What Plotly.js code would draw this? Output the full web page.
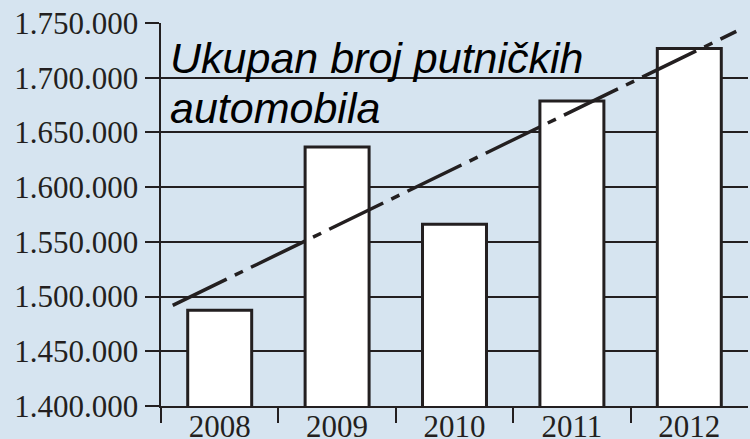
<!DOCTYPE html>
<html>
<head>
<meta charset="utf-8">
<script src="https://cdn.plot.ly/plotly-3.0.1.min.js"></script>
<style>html,body{margin:0;padding:0;background:#d6e4f0;}#chart{width:750px;height:439px;}</style>
</head>
<body>
<div id="chart"></div>
<script>
// Data
const years = [2008, 2009, 2010, 2011, 2012];
const yearLabels = ['2008', '2009', '2010', '2011', '2012'];
const cars = [1487500, 1636700, 1566100, 1678800, 1726800];
// trend line end points (as drawn in the picture)
const trendX = [2007.6, 2012.4];
const trendY = [1492000, 1742300];
const boundaries = [2007.5, 2008.5, 2009.5, 2010.5, 2011.5];
const titleLines = ['Ukupan broj putničkih', 'automobila'];

const ink = '#231f20';
const bg = '#d6e4f0';

const traces = [
  {
    type: 'bar', x: years, y: cars, xaxis: 'x', yaxis: 'y',
    width: 0.545,
    marker: {color: '#ffffff', line: {color: ink, width: 3}},
    hoverinfo: 'x+y', showlegend: false
  },
  {
    type: 'scatter', mode: 'lines', x: trendX, y: trendY, xaxis: 'x2', yaxis: 'y',
    line: {color: ink, width: 3.5, dash: '60px,9px,9px,9px'},
    showlegend: false, hoverinfo: 'skip'
  }
];

const layout = {
  width: 750, height: 439,
  margin: {l: 161, r: 2, t: 23, b: 33},
  paper_bgcolor: bg, plot_bgcolor: bg,
  separators: ',.',
  font: {family: '"Liberation Serif", "Times New Roman", serif', color: ink, size: 31},
  xaxis: {
    range: [2007.5, 2012.5], tickvals: years, ticktext: yearLabels,
    ticks: '', showgrid: false, zeroline: false,
    showline: true, linecolor: ink, linewidth: 2,
    tickfont: {size: 31, color: ink}, ticklabelstandoff: -8, fixedrange: true
  },
  xaxis2: {
    overlaying: 'x', anchor: 'y', side: 'bottom',
    range: [2007.5, 2012.5], tickvals: boundaries,
    ticks: 'outside', ticklen: 16, tickwidth: 2, tickcolor: ink,
    showticklabels: false, showgrid: false, zeroline: false, showline: false
  },
  yaxis: {
    range: [1400000, 1750000], dtick: 50000, tick0: 1400000, tickformat: ',d',
    ticks: 'outside', ticklen: 14, tickwidth: 2, tickcolor: ink,
    showgrid: true, gridcolor: ink, gridwidth: 2,
    showline: true, linecolor: ink, linewidth: 2.5, zeroline: false,
    tickfont: {size: 31, color: ink}, ticklabelstandoff: 0
  },
  annotations: [
    {text: titleLines[0], xref: 'paper', yref: 'y', x: 0.012, y: 1718000,
     xanchor: 'left', yanchor: 'middle', showarrow: false,
     font: {family: '"Liberation Sans", Arial, sans-serif', size: 43, color: '#000000'}},
    {text: titleLines[1], xref: 'paper', yref: 'y', x: 0.012, y: 1672000,
     xanchor: 'left', yanchor: 'middle', showarrow: false,
     font: {family: '"Liberation Sans", Arial, sans-serif', size: 43, color: '#000000'}}
  ]
};

Plotly.newPlot('chart', traces, layout, {staticPlot: true}).then(function () {
  document.querySelectorAll('.annotation-text').forEach(function (t) { t.style.fontStyle = 'italic'; });
});
</script>
</body>
</html>
